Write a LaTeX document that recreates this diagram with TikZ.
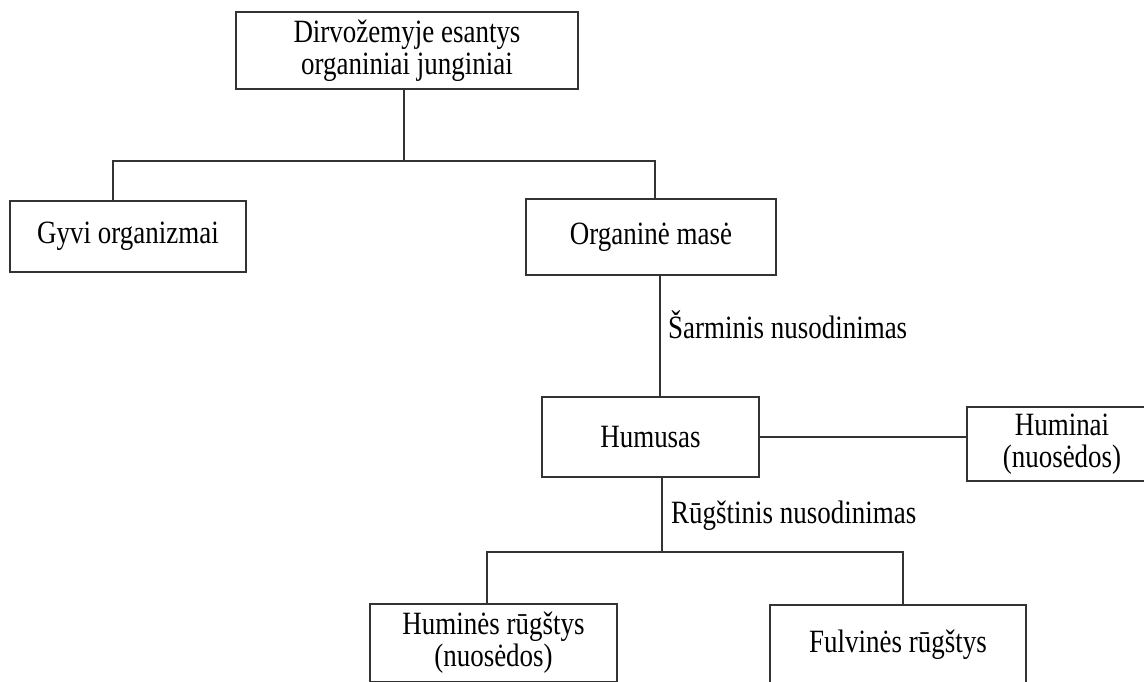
\documentclass[tikz,border=0pt]{standalone}
\usepackage{fontspec}
\setmainfont{Liberation Serif}[FakeStretch=0.83]
\begin{document}
\begin{tikzpicture}[x=1pt,y=-1pt,
  box/.style={draw=black!80, line width=1.8pt, rectangle, inner sep=0pt, align=center,
    font=\fontsize{32.5}{32}\selectfont},
  lbl/.style={inner sep=0pt, anchor=base west, font=\fontsize{32.5}{32}\selectfont},
  conn/.style={draw=black!80, line width=1.8pt}]
\useasboundingbox (0,0) rectangle (1144,681);
\clip (0,0) rectangle (1144,681);
\fill[white] (0,0) rectangle (1144,681);
\node[box, minimum width=342pt, minimum height=77pt] (top) at (407,50.5) {Dirvožemyje esantys\\organiniai junginiai};
\node[box, minimum width=236pt, minimum height=71pt] (gyvi) at (128,236.5) {Gyvi organizmai};
\node[box, minimum width=250pt, minimum height=76pt] (org) at (651,237) {Organinė masė};
\node[box, minimum width=217pt, minimum height=80pt] (hum) at (650.5,437) {Humusas};
\node[box, minimum width=190pt, minimum height=74pt] (huminai) at (1062,444) {Huminai\\(nuosėdos)};
\node[box, minimum width=247pt, minimum height=78pt] (humr) at (493.5,643) {Huminės rūgštys\\(nuosėdos)};
\node[box, minimum width=256pt, minimum height=79pt] (fulv) at (898,644.5) {Fulvinės rūgštys};
\node[lbl] (sarm) at (668,338) {Šarminis nusodinimas};
\node[lbl] (rugs) at (671,523) {Rūgštinis nusodinimas};
\coordinate (jA) at (404,161);
\coordinate (xG) at (113,0);
\coordinate (xO) at (655,0);
\coordinate (xH) at (660,0);
\coordinate (yR) at (0,437);
\coordinate (jB) at (662,552);
\coordinate (xL) at (487,0);
\coordinate (xR) at (903,0);
\draw[conn] (top.south -| jA) -- (jA);
\draw[conn] (gyvi.north -| xG) |- (jA);
\draw[conn] (org.north -| xO) |- (jA);
\draw[conn] (org.south -| xH) -- (hum.north -| xH);
\draw[conn] (hum.east |- yR) -- (huminai.west |- yR);
\draw[conn] (hum.south -| jB) -- (jB);
\draw[conn] (humr.north -| xL) |- (jB);
\draw[conn] (fulv.north -| xR) |- (jB);
\end{tikzpicture}
\end{document}
